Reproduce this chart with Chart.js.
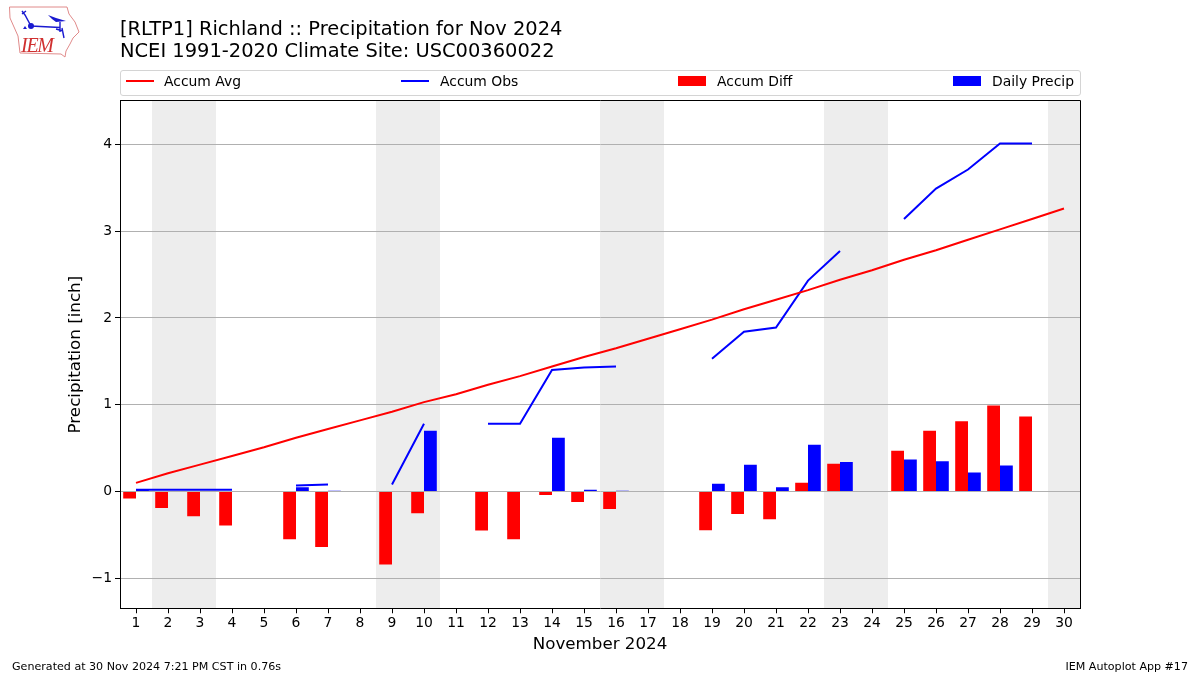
<!DOCTYPE html>
<html>
<head>
<meta charset="utf-8">
<title>Precipitation for Nov 2024</title>
<script src="https://cdn.jsdelivr.net/npm/chart.js@4/dist/chart.umd.min.js"></script>
<style>
body{margin:0;background:#fff;font-family:"DejaVu Sans",sans-serif;color:#000;}
#wrap{position:relative;width:1200px;height:675px;overflow:hidden;}
#chart{position:absolute;left:0;top:0;}
#logo{position:absolute;left:0;top:0;}
#legend{position:absolute;left:120px;top:70px;width:959px;height:24px;border:1px solid #d4d4d4;border-radius:3px;font-size:13.9px;}
.item{position:absolute;top:-1px;line-height:22px;white-space:nowrap;}
.swatch{position:absolute;}
.foot{position:absolute;top:660px;font-size:11.1px;white-space:nowrap;}
</style>
</head>
<body>
<div id="wrap">
<canvas id="chart" width="1200" height="675"></canvas>
<svg id="logo" width="90" height="62" viewBox="0 0 90 62">
<path d="M9.5 7 L67 7 L69 14 L75 22 L79 32 L73 38 L70 44 L66 51 L65 57 L61 54 L20 53 L18 36 L10 18 Z" fill="none" stroke="#e08a8a" stroke-width="1"/>
<path d="M22 11 L25 15 L31 26 L60 27.5 M22 14 L26 11 M60 22 L60 32 M56 29 L63 31 M62 28 L64 38" fill="none" stroke="#1a1ad0" stroke-width="1.4"/>
<path d="M48 15 L56 18 L66 21 L56 22 L52 19 Z" fill="#1a1ad0"/>
<path d="M23 29 L25 26 L27 29 Z" fill="#1a1ad0"/>
<circle cx="31" cy="26" r="3" fill="#1a1ad0"/>
<text x="21" y="52" font-family="Liberation Serif" font-style="italic" font-size="20" textLength="33" fill="#d03030">IEM</text>
</svg>
<div id="legend"></div>
<div class="foot" style="left:12px">Generated at 30 Nov 2024 7:21 PM CST in 0.76s</div>
<div class="foot" style="right:12px">IEM Autoplot App #17</div>
</div>

<script>
const days = ["1","2","3","4","5","6","7","8","9","10","11","12","13","14","15","16","17","18","19","20","21","22","23","24","25","26","27","28","29","30"];
const weekendDays = ["2","3","9","10","16","17","23","24","30"];

const accumAvg = [0.10,0.21,0.31,0.41,0.51,0.62,0.72,0.82,0.92,1.03,1.12,1.23,1.33,1.44,1.55,1.65,1.76,1.87,1.98,2.10,2.21,2.32,2.44,2.55,2.67,2.78,2.90,3.02,3.14,3.26];
const accumObs = [0.02,0.02,0.02,0.02,null,0.07,0.08,null,0.08,0.78,null,0.78,0.78,1.40,1.43,1.44,null,null,1.53,1.84,1.89,2.43,2.77,null,3.14,3.49,3.71,4.01,4.01,null];
const accumDiff = [-0.08,-0.19,-0.285,-0.39,null,-0.55,-0.64,null,-0.84,-0.25,null,-0.45,-0.55,-0.04,-0.12,-0.20,null,null,-0.445,-0.26,-0.32,0.10,0.32,null,0.47,0.70,0.81,0.99,0.865,null];
const dailyPrecip = [0.02,0,0,0,null,0.05,0.01,null,0,0.70,null,0,0,0.62,0.02,0.01,null,null,0.09,0.31,0.05,0.54,0.34,null,0.37,0.35,0.22,0.30,0,null];

const titleLines = ["[RLTP1] Richland :: Precipitation for Nov 2024","NCEI 1991-2020 Climate Site: USC00360022"];
const font = "DejaVu Sans";

/* -------- LEGEND -------- */

const legendItems = [
{label:"Accum Avg",color:"#ff0000",kind:"line",swatch:5,text:43},
{label:"Accum Obs",color:"#0000ff",kind:"line",swatch:280,text:319},
{label:"Accum Diff",color:"#ff0000",kind:"bar",swatch:557,text:596},
{label:"Daily Precip",color:"#0000ff",kind:"bar",swatch:832,text:871}
];

legendItems.forEach(it=>{
let s=document.createElement("div");
s.className="swatch";
s.style.left=it.swatch+"px";
s.style.width="28px";
s.style.background=it.color;
s.style.top=it.kind==="line" ? "9px" : "5px";
s.style.height=it.kind==="line" ? "2px" : "10px";
document.getElementById("legend").appendChild(s);

let t=document.createElement("div");
t.className="item";
t.style.left=it.text+"px";
t.innerText=it.label;
document.getElementById("legend").appendChild(t);
});

/* -------- WEEKEND SHADING AND FRAME -------- */

const weekendShade = {
id:"weekendShade",
beforeDraw(chart){
const {ctx,chartArea,scales} = chart;
const half = (scales.x.getPixelForValue(1)-scales.x.getPixelForValue(0))/2;
ctx.save();
ctx.fillStyle="#ededed";
weekendDays.forEach(d=>{
const c = scales.x.getPixelForValue(days.indexOf(d));
const x0 = Math.round(c-half);
const x1 = Math.round(c+half);
ctx.fillRect(x0,chartArea.top,x1-x0,chartArea.height);
});
ctx.restore();
},
afterDraw(chart){
// top and right edges only, the axes draw the other two
const {ctx,chartArea} = chart;
const top = Math.floor(chartArea.top)+0.5;
const right = Math.floor(chartArea.right)+0.5;
ctx.save();
ctx.strokeStyle="#000";
ctx.lineWidth=1;
ctx.beginPath();
ctx.moveTo(chartArea.left,top);
ctx.lineTo(right,top);
ctx.lineTo(right,chartArea.bottom);
ctx.stroke();
ctx.restore();
}
};

/* -------- CHART -------- */

new Chart(document.getElementById("chart"),{
type:"bar",
plugins:[weekendShade],
data:{
labels:days,
datasets:[
{type:"line",label:"Accum Avg",data:accumAvg,borderColor:"#ff0000",borderWidth:2,pointRadius:0,tension:0,order:1},
{type:"line",label:"Accum Obs",data:accumObs,borderColor:"#0000ff",borderWidth:2,pointRadius:0,tension:0,spanGaps:false,order:1},
{label:"Accum Diff",data:accumDiff,backgroundColor:"#ff0000",categoryPercentage:0.8,barPercentage:1,order:2},
{label:"Daily Precip",data:dailyPrecip,backgroundColor:"#0000ff",categoryPercentage:0.8,barPercentage:1,order:2}
]
},
options:{
responsive:false,
animation:false,
layout:{padding:{left:66,right:120,top:19,bottom:20}},
plugins:{
legend:{display:false},
tooltip:{enabled:false},
title:{
display:true,
text:titleLines,
align:"start",
fullSize:false,
color:"#000",
font:{family:font,size:19.44,weight:"normal",lineHeight:1.13},
padding:{top:0,bottom:38}
}
},
scales:{
x:{
type:"category",
border:{color:"#000",width:1},
grid:{offset:false,drawOnChartArea:false,drawTicks:true,tickLength:5,tickColor:"#000"},
ticks:{color:"#000",font:{family:font,size:13.9},maxRotation:0,autoSkip:false,padding:2},
title:{display:true,text:"November 2024",color:"#000",font:{family:font,size:16.7},padding:{top:1,bottom:0}}
},
y:{
min:-1.345,
max:4.5,
border:{color:"#000",width:1},
grid:{color:"#b0b0b0",lineWidth:1,tickColor:"#000",tickLength:5},
ticks:{
color:"#000",
font:{family:font,size:13.9},
stepSize:1,
includeBounds:false,
padding:3,
callback:v=>String(v).replace("-","\u2212")
},
title:{display:true,text:"Precipitation [inch]",color:"#000",font:{family:font,size:16.7},padding:{top:0,bottom:0}},
afterFit(scale){scale.width=54;}
}
}
}
});
</script>
</body>
</html>
